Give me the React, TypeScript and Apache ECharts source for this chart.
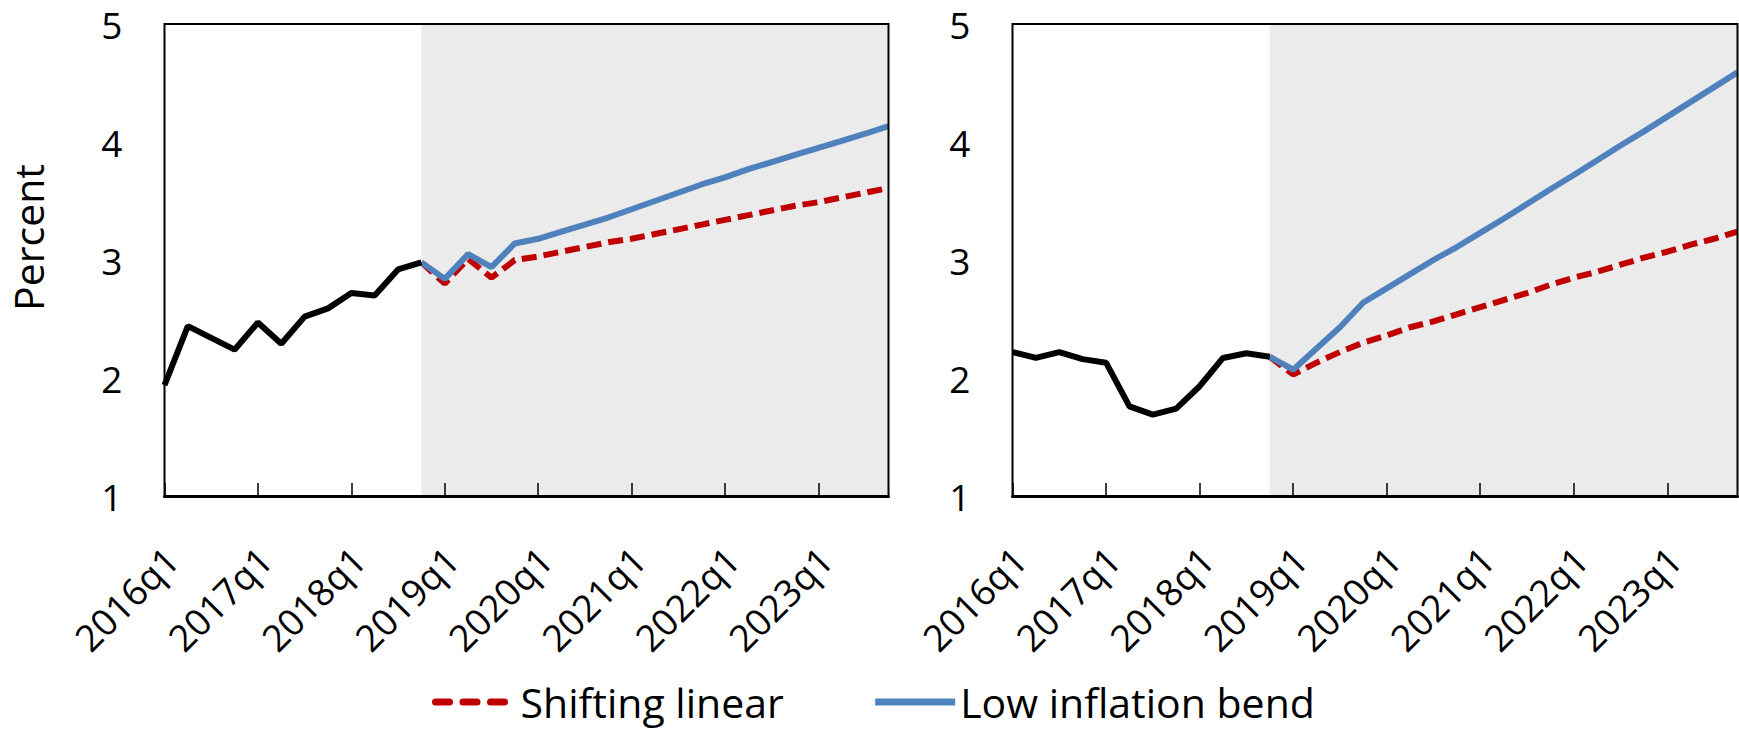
import { useEffect, useRef } from "react";
import * as echarts from "echarts";

// Quarterly categories, 2016q1 .. 2023q4
const YEARS = [2016, 2017, 2018, 2019, 2020, 2021, 2022, 2023];
const QUARTERS = YEARS.flatMap((y) => [1, 2, 3, 4].map((q) => `${y}q${q}`));

// Projection window (shaded)
const FORECAST_START = "2018q4";
const FORECAST_END = "2023q4";
const FORECAST_OFFSET = QUARTERS.indexOf(FORECAST_START);

// Left panel: actual 2016q1..2018q4, projections 2018q4..2023q4
const leftActual = [1.94, 2.44, 2.34, 2.24, 2.47, 2.29, 2.52, 2.59, 2.72, 2.7, 2.92, 2.98];
const leftShifting = [
  2.98, 2.8, 3.01, 2.85, 3.0, 3.03, 3.07, 3.11, 3.15, 3.18, 3.22, 3.26, 3.3, 3.34, 3.38, 3.42,
  3.46, 3.49, 3.53, 3.57, 3.61,
];
const leftBend = [
  2.98, 2.84, 3.05, 2.94, 3.14, 3.18, 3.24, 3.3, 3.36, 3.43, 3.5, 3.57, 3.64, 3.7, 3.77, 3.83,
  3.89, 3.95, 4.01, 4.07, 4.135,
];

// Right panel
const rightActual = [2.22, 2.17, 2.22, 2.16, 2.13, 1.76, 1.69, 1.74, 1.93, 2.17, 2.21, 2.18];
const rightShifting = [
  2.18, 2.03, 2.13, 2.22, 2.3, 2.36, 2.43, 2.48, 2.54, 2.6, 2.66, 2.72, 2.79, 2.85, 2.9, 2.96,
  3.02, 3.07, 3.13, 3.18, 3.24,
];
const rightBend = [
  2.18, 2.07, 2.25, 2.43, 2.64, 2.76, 2.88, 3.0, 3.11, 3.23, 3.35, 3.475, 3.6, 3.72, 3.845, 3.97,
  4.09, 4.215, 4.34, 4.465, 4.59,
];

const Y_MIN = 1;
const Y_MAX = 5;
const Y_STEP = 1;

const SERIES_SHIFTING = "Shifting linear";
const SERIES_BEND = "Low inflation bend";
const SERIES_ACTUAL = "Actual";
const Y_NAME = "Percent";

const FONT = "'Open Sans', 'Liberation Sans', sans-serif";
const RED = "#C00000";
const BLUE = "#4F81BD";
const SHADE = "#EBEBEB";

const PANELS = [
  { actual: leftActual, shifting: leftShifting, bend: leftBend },
  { actual: rightActual, shifting: rightShifting, bend: rightBend },
];

const GRIDS = [
  { left: 164.5, top: 24, width: 724, height: 472 },
  { left: 1012.5, top: 24, width: 725, height: 472 },
];

const padActual = (vals: number[]) =>
  QUARTERS.map((_, i) => (i < vals.length ? vals[i] : null));
const padForecast = (vals: number[]) =>
  QUARTERS.map((_, i) => (i >= FORECAST_OFFSET ? vals[i - FORECAST_OFFSET] : null));

function buildOption() {
  const grid = GRIDS.map((g) => ({
    ...g,
    show: true,
    borderColor: "#000",
    borderWidth: 2,
    backgroundColor: "transparent",
    z: 10,
  }));

  const xAxis = GRIDS.map((_, i) => ({
    type: "category",
    gridIndex: i,
    data: QUARTERS,
    boundaryGap: false,
    z: 11,
    axisLine: { show: true, lineStyle: { color: "#000", width: 3 } },
    axisTick: {
      show: true,
      inside: true,
      length: 13,
      interval: 3,
      lineStyle: { color: "#000", width: 1.5 },
    },
    axisLabel: {
      interval: 3,
      rotate: 45,
      margin: 50,
      fontSize: 37,
      lineHeight: 20,
      verticalAlign: "top",
      fontFamily: FONT,
      color: "#000",
    },
    splitLine: { show: false },
  }));

  const yAxis = GRIDS.map((_, i) => ({
    type: "value",
    gridIndex: i,
    min: Y_MIN,
    max: Y_MAX,
    interval: Y_STEP,
    z: 11,
    axisLine: { show: false },
    axisTick: { show: false },
    splitLine: { show: false },
    axisLabel: { fontSize: 37, fontFamily: FONT, color: "#000", margin: 42 },
  }));

  const series: any[] = [];
  PANELS.forEach((p, i) => {
    series.push({
      type: "line",
      name: "shade",
      xAxisIndex: i,
      yAxisIndex: i,
      data: [],
      z: 1,
      silent: true,
      markArea: {
        silent: true,
        itemStyle: { color: SHADE },
        data: [[{ xAxis: FORECAST_START }, { xAxis: FORECAST_END }]],
      },
    });
    series.push({
      type: "line",
      name: SERIES_SHIFTING,
      xAxisIndex: i,
      yAxisIndex: i,
      data: padForecast(p.shifting),
      symbol: "none",
      z: 2,
      itemStyle: { color: RED },
      lineStyle: { color: RED, width: 6, type: [15, 7] },
    });
    series.push({
      type: "line",
      name: SERIES_BEND,
      xAxisIndex: i,
      yAxisIndex: i,
      data: padForecast(p.bend),
      symbol: "none",
      z: 3,
      itemStyle: { color: BLUE },
      lineStyle: { color: BLUE, width: 6 },
    });
    series.push({
      type: "line",
      name: SERIES_ACTUAL,
      xAxisIndex: i,
      yAxisIndex: i,
      data: padActual(p.actual),
      symbol: "none",
      z: 4,
      itemStyle: { color: "#000" },
      lineStyle: { color: "#000", width: 6 },
    });
  });

  return {
    animation: false,
    backgroundColor: "#fff",
    grid,
    xAxis,
    yAxis,
    series,
    legend: {
      data: [
        {
          name: SERIES_SHIFTING,
          lineStyle: { width: 7, type: [14, 13.5], cap: "round" },
        },
        { name: SERIES_BEND, lineStyle: { width: 7 } },
      ],
      left: 432,
      top: 680,
      padding: 0,
      itemWidth: 80,
      itemHeight: 14,
      itemGap: 88,
      selectedMode: false,
      itemStyle: { color: "rgba(0,0,0,0)", borderWidth: 0, opacity: 0 },
      lineStyle: { width: 7 },
      textStyle: { fontSize: 41, fontFamily: FONT, color: "#000", lineHeight: 44 },
    },
    graphic: [
      {
        type: "text",
        x: 28,
        y: 237.5,
        rotation: Math.PI / 2,
        style: {
          text: Y_NAME,
          fontSize: 41,
          fontFamily: FONT,
          fill: "#000",
          align: "center",
          verticalAlign: "middle",
        },
      },
    ],
  };
}

export default function App() {
  const ref = useRef<HTMLDivElement>(null);
  useEffect(() => {
    if (!ref.current) return;
    const chart = echarts.init(ref.current, undefined, { renderer: "svg" });
    chart.setOption(buildOption() as any);
    return () => chart.dispose();
  }, []);
  return (
    <div
      ref={ref}
      style={{ position: "absolute", left: 0, top: 0, width: 1739, height: 731 }}
    />
  );
}
